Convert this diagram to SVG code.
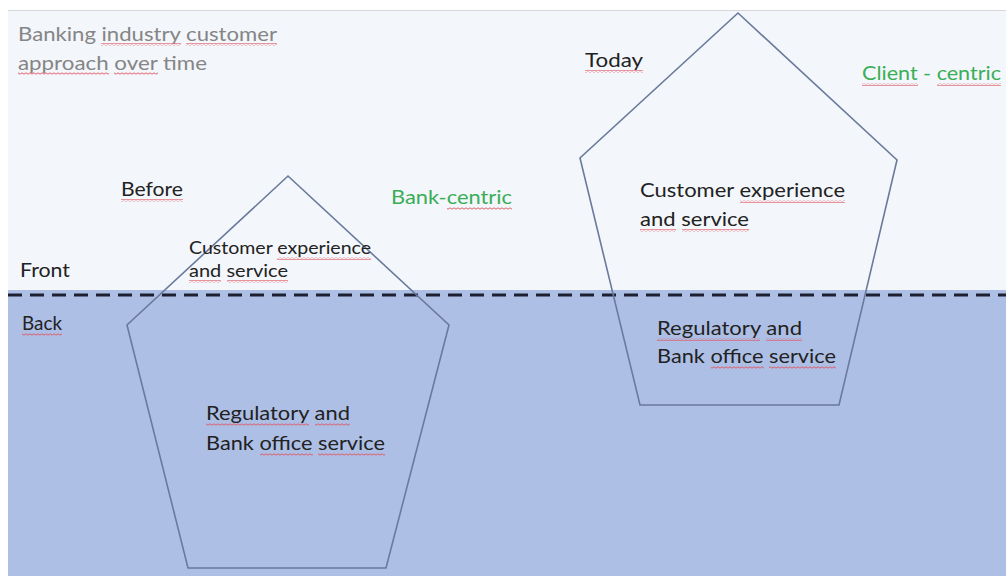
<svg xmlns="http://www.w3.org/2000/svg" width="1006" height="576" viewBox="0 0 1006 576">
  <style>
    text { font-family: Lato, "Open Sans", "Liberation Sans", sans-serif; }
    .title { fill: #858585; font-size: 20px; }
    .lbl { fill: #222; font-size: 20px; }
    .small { fill: #222; font-size: 17.5px; }
    .green { fill: #3aae57; font-size: 20px; }
    .shape { fill: none; stroke: #6a7a9c; stroke-width: 1.6; stroke-linejoin: miter; }
    .sp { fill: url(#wave); }
  </style>
  <defs>
    <pattern id="wave" x="0" y="0" width="4" height="3" patternUnits="userSpaceOnUse">
      <path d="M0,2.2 L2,0.8 L4,2.2" fill="none" stroke="#e0505a" stroke-width="0.9"/>
    </pattern>
  </defs>
  <rect x="0" y="0" width="1006" height="576" fill="#ffffff"/>
  <rect x="8" y="10" width="998" height="282" fill="#f3f6fb"/>
  <line x1="8" y1="10.5" x2="1006" y2="10.5" stroke="#d4d6da" stroke-width="1"/>
  <rect x="8" y="290" width="998" height="286" fill="#aebfe6"/>

  <g id="connectors">
    <line id="divider" x1="8" y1="295" x2="1006" y2="295" stroke="#1c2030" stroke-width="3.2" stroke-dasharray="14 8"/>
  </g>

  <g id="title">
    <text class="title" x="18" y="41" textLength="259" lengthAdjust="spacingAndGlyphs">Banking <tspan>industry</tspan> <tspan>customer</tspan></text>
    <text class="title" x="18" y="70" textLength="189" lengthAdjust="spacingAndGlyphs"><tspan>approach</tspan> <tspan>over</tspan> time</text>
    <rect class="sp" x="101" y="43" width="80" height="3"/>
    <rect class="sp" x="186" y="43" width="91" height="3"/>
    <rect class="sp" x="18" y="72" width="91" height="3"/>
    <rect class="sp" x="114" y="72" width="44" height="3"/>
  </g>

  <g id="front-label"><text class="lbl" x="20" y="277" textLength="50" lengthAdjust="spacingAndGlyphs">Front</text></g>
  <g id="back-label">
    <text class="lbl" x="22" y="330" textLength="40" lengthAdjust="spacingAndGlyphs"><tspan>Back</tspan></text>
    <rect class="sp" x="22" y="333" width="40" height="3"/>
  </g>

  <g id="before">
    <text class="lbl" x="121" y="196" textLength="62" lengthAdjust="spacingAndGlyphs"><tspan>Before</tspan></text>
    <rect class="sp" x="121" y="199" width="62" height="3"/>
    <text class="green" x="391" y="204" textLength="121" lengthAdjust="spacingAndGlyphs">Bank-<tspan>centric</tspan></text>
    <rect class="sp" x="447" y="207" width="65" height="3"/>
  </g>

  <g id="today">
    <text class="lbl" x="585" y="67" textLength="58" lengthAdjust="spacingAndGlyphs"><tspan>Today</tspan></text>
    <rect class="sp" x="585" y="70" width="58" height="3"/>
    <text class="green" x="862" y="80" textLength="139" lengthAdjust="spacingAndGlyphs"><tspan>Client</tspan> - <tspan>centric</tspan></text>
    <rect class="sp" x="862" y="83" width="56" height="3"/>
    <rect class="sp" x="937" y="83" width="64" height="3"/>
  </g>

  <g id="before-pentagon">
    <polygon class="shape" points="288,176 449,325 386,568 188,568 127,325"/>
    <text class="small" x="189" y="254" textLength="182" lengthAdjust="spacingAndGlyphs">Customer <tspan>experience</tspan></text>
    <text class="small" x="189" y="277" textLength="99" lengthAdjust="spacingAndGlyphs"><tspan>and</tspan> <tspan>service</tspan></text>
    <rect class="sp" x="277" y="257" width="94" height="3"/>
    <rect class="sp" x="189" y="280" width="32" height="3"/>
    <rect class="sp" x="227" y="280" width="61" height="3"/>
    <text class="lbl" x="206" y="420" textLength="144" lengthAdjust="spacingAndGlyphs"><tspan>Regulatory</tspan> <tspan>and</tspan></text>
    <text class="lbl" x="206" y="450" textLength="179" lengthAdjust="spacingAndGlyphs">Bank <tspan>office</tspan> <tspan>service</tspan></text>
    <rect class="sp" x="206" y="423" width="103" height="3"/>
    <rect class="sp" x="315" y="423" width="35" height="3"/>
    <rect class="sp" x="260" y="453" width="53" height="3"/>
    <rect class="sp" x="318" y="453" width="67" height="3"/>
  </g>

  <g id="today-pentagon">
    <polygon class="shape" points="738,13 897,160 839,405 640,405 580,158"/>
    <text class="lbl" x="640" y="197" textLength="205" lengthAdjust="spacingAndGlyphs">Customer <tspan>experience</tspan></text>
    <text class="lbl" x="640" y="226" textLength="109" lengthAdjust="spacingAndGlyphs"><tspan>and</tspan> <tspan>service</tspan></text>
    <rect class="sp" x="740" y="200" width="105" height="3"/>
    <rect class="sp" x="640" y="229" width="36" height="3"/>
    <rect class="sp" x="682" y="229" width="67" height="3"/>
    <text class="lbl" x="657" y="335" textLength="145" lengthAdjust="spacingAndGlyphs"><tspan>Regulatory</tspan> <tspan>and</tspan></text>
    <text class="lbl" x="657" y="363" textLength="179" lengthAdjust="spacingAndGlyphs">Bank <tspan>office</tspan> <tspan>service</tspan></text>
    <rect class="sp" x="657" y="338" width="103" height="3"/>
    <rect class="sp" x="766" y="338" width="36" height="3"/>
    <rect class="sp" x="711" y="366" width="53" height="3"/>
    <rect class="sp" x="769" y="366" width="67" height="3"/>
  </g>
</svg>
